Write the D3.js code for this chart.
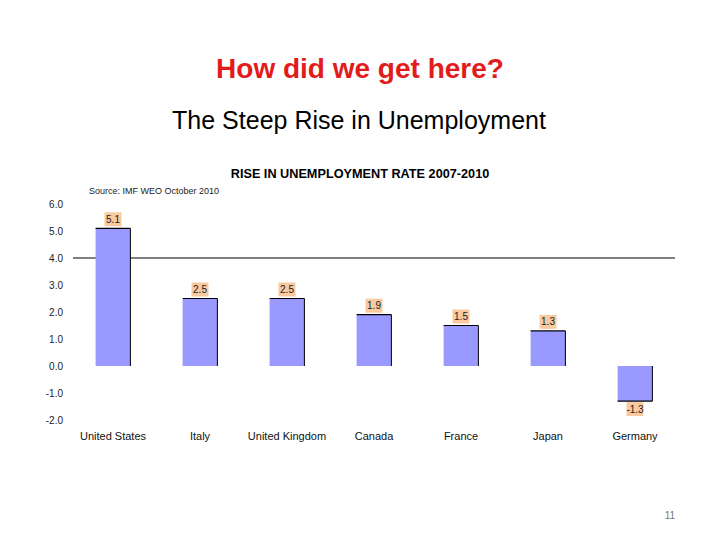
<!DOCTYPE html>
<html>
<head>
<meta charset="utf-8">
<script src="https://cdn.jsdelivr.net/npm/d3@7"></script>
<style>
  body { margin: 0; background: #fff; }
  text { font-family: "Liberation Sans", Arial, sans-serif; }
</style>
</head>
<body>
<div id="chart"></div>
<script>
// Data
const countries = ["United States", "Italy", "United Kingdom", "Canada", "France", "Japan", "Germany"];
const rise = [5.1, 2.5, 2.5, 1.9, 1.5, 1.3, -1.3];
const yTicks = [6, 5, 4, 3, 2, 1, 0, -1, -2];
const refLine = 4.0;

const W = 720, H = 540;
const svg = d3.select("#chart").append("svg")
    .attr("width", W)
    .attr("height", H);

// plain hyphen instead of the unicode minus d3 uses
const fmt = d => d3.format(".1f")(d).replace("\u2212", "-");

// Slide headings
svg.append("text")
    .attr("x", 360).attr("y", 78)
    .attr("text-anchor", "middle")
    .attr("fill", "#e21b1b")
    .style("font-size", "28px")
    .style("font-weight", "bold")
    .text("How did we get here?");

svg.append("text")
    .attr("x", 359).attr("y", 129)
    .attr("text-anchor", "middle")
    .attr("fill", "#000")
    .style("font-size", "25px")
    .text("The Steep Rise in Unemployment");

svg.append("text")
    .attr("x", 360).attr("y", 178)
    .attr("text-anchor", "middle")
    .style("font-size", "12.7px")
    .style("font-weight", "bold")
    .text("RISE IN UNEMPLOYMENT RATE 2007-2010");

svg.append("text")
    .attr("x", 89).attr("y", 194)
    .attr("fill", "#222")
    .style("font-size", "9px")
    .text("Source: IMF WEO October 2010");

svg.append("text")
    .attr("x", 670).attr("y", 519)
    .attr("text-anchor", "middle")
    .attr("fill", "#777")
    .style("font-size", "10px")
    .text("11");

// Scales
const x = d3.scaleBand()
    .domain(countries)
    .range([69.5, 678.5])
    .paddingInner(0.6)
    .paddingOuter(0.3);

const y = d3.scaleLinear()
    .domain([-2, 6])
    .range([420, 204]);

// Y axis: labels only
const yAxis = d3.axisLeft(y)
    .tickValues(yTicks)
    .tickFormat(fmt)
    .tickSize(0)
    .tickPadding(0);

const gy = svg.append("g")
    .attr("transform", "translate(63,0)")
    .call(yAxis);
gy.select(".domain").remove();
gy.selectAll("text")
    .attr("fill", "#222")
    .style("font-size", "10px")
    .style("font-family", "'Liberation Sans', Arial, sans-serif");

// X axis: category labels only
const xAxis = d3.axisBottom(x).tickSize(0).tickPadding(0);
const gx = svg.append("g")
    .attr("transform", "translate(0,432)")
    .call(xAxis);
gx.select(".domain").remove();
gx.selectAll("text")
    .attr("fill", "#111")
    .style("font-size", "11px")
    .style("font-family", "'Liberation Sans', Arial, sans-serif");

// Reference line at 4.0
svg.append("line")
    .attr("x1", 73).attr("x2", 675)
    .attr("y1", y(refLine)).attr("y2", y(refLine))
    .attr("stroke", "#000")
    .attr("stroke-width", 1.2);

const data = countries.map((c, i) => ({ country: c, value: rise[i] }));

// Bars
svg.selectAll(".bar")
    .data(data)
    .enter().append("rect")
    .attr("class", "bar")
    .attr("x", d => x(d.country))
    .attr("y", d => y(Math.max(0, d.value)))
    .attr("width", x.bandwidth())
    .attr("height", d => Math.abs(y(d.value) - y(0)))
    .attr("fill", "#9999ff");

// Black edge at the value end of each bar
svg.selectAll(".bar-edge")
    .data(data)
    .enter().append("line")
    .attr("class", "bar-edge")
    .attr("x1", d => x(d.country))
    .attr("x2", d => x(d.country) + x.bandwidth())
    .attr("y1", d => y(d.value))
    .attr("y2", d => y(d.value))
    .attr("stroke", "#000")
    .attr("stroke-width", 1.2);

// Right edge
svg.selectAll(".bar-side")
    .data(data)
    .enter().append("line")
    .attr("class", "bar-side")
    .attr("x1", d => x(d.country) + x.bandwidth())
    .attr("x2", d => x(d.country) + x.bandwidth())
    .attr("y1", d => y(d.value))
    .attr("y2", y(0))
    .attr("stroke", "#000")
    .attr("stroke-width", 1);

// Value labels in peach boxes
const labels = svg.selectAll(".val")
    .data(data)
    .enter().append("g")
    .attr("class", "val")
    .attr("transform", d => {
        const cx = x(d.country) + x.bandwidth() / 2;
        const cy = d.value >= 0 ? y(d.value) - 9 : y(d.value) + 8;
        return `translate(${cx},${cy})`;
    });

labels.append("rect")
    .attr("x", -8.5).attr("y", -7)
    .attr("width", 17).attr("height", 14)
    .attr("fill", "#f9c9a0");

labels.append("text")
    .attr("text-anchor", "middle")
    .attr("dy", "0.35em")
    .attr("fill", "#222")
    .style("font-size", "10px")
    .text(d => fmt(d.value));
</script>
</body>
</html>
